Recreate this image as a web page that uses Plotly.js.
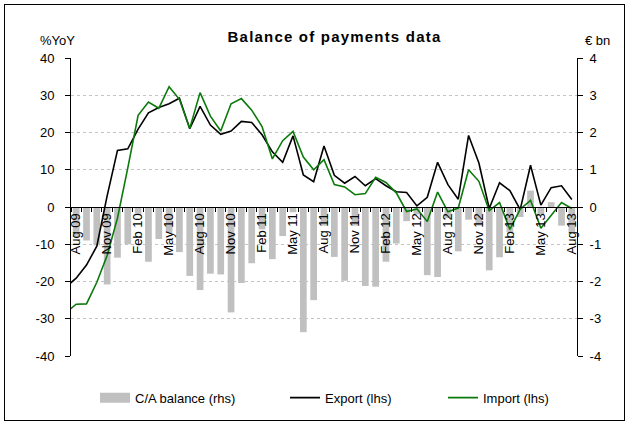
<!DOCTYPE html>
<html>
<head>
<meta charset="utf-8">
<script src="https://cdn.plot.ly/plotly-3.0.1.min.js"></script>
<style>
  html, body { margin: 0; padding: 0; background: #fff; }
  #wrap { position: relative; width: 629px; height: 425px; }
  #chart { position: absolute; left: 0; top: 0; width: 629px; height: 425px; }
  #frame { position: absolute; left: 4px; top: 4px; width: 621px; height: 417px; box-sizing: border-box; border: 1px solid #000; pointer-events: none; }
  .gtitle { letter-spacing: 1.2px; }
</style>
</head>
<body>
<div id="wrap"><div id="chart"></div><div id="frame"></div></div>
<script>
// Months shown (bars), Aug 09 .. Aug 13
const months = ['Aug 09','Sep 09','Oct 09','Nov 09','Dec 09','Jan 10','Feb 10','Mar 10','Apr 10','May 10','Jun 10','Jul 10',
  'Aug 10','Sep 10','Oct 10','Nov 10','Dec 10','Jan 11','Feb 11','Mar 11','Apr 11','May 11','Jun 11','Jul 11',
  'Aug 11','Sep 11','Oct 11','Nov 11','Dec 11','Jan 12','Feb 12','Mar 12','Apr 12','May 12','Jun 12','Jul 12',
  'Aug 12','Sep 12','Oct 12','Nov 12','Dec 12','Jan 13','Feb 13','Mar 13','Apr 13','May 13','Jun 13','Jul 13','Aug 13'];
// line series start one month earlier (clipped at the axis)
const lineMonths = ['Jul 09'].concat(months);

// C/A balance, EUR bn (rhs)
const caBalance = [-0.8,-0.9,-1.03,-2.08,-1.36,-1.0,-0.18,-1.47,-0.86,-0.7,-1.21,-1.85,
  -2.23,-1.79,-1.81,-2.83,-2.04,-1.51,-0.6,-1.4,-0.78,-0.14,-3.36,-2.5,
  -0.5,-1.34,-1.98,-0.5,-2.12,-2.14,-1.47,-0.98,-0.38,-0.2,-1.83,-1.88,
  -0.3,-1.19,-0.34,-0.5,-1.7,-1.35,-0.67,-0.27,0.44,-0.2,0.13,-0.5,-0.71];

// Export, %YoY (lhs)
const exportYoY = [-21.5,-19.1,-15.6,-10.5,3.0,15.2,15.6,20.9,25.3,26.7,27.7,29.2,21.0,
  27.0,22.0,19.5,20.4,23.0,22.7,19.4,14.8,12.0,19.1,8.6,6.8,
  16.4,8.5,6.4,8.2,5.7,7.6,5.7,4.1,3.9,0.3,2.6,12.0,
  6.0,2.1,19.2,11.8,-0.4,6.5,4.4,-0.7,11.2,0.5,5.2,5.7,2.0];

// Import, %YoY (lhs)
const importYoY = [-28.4,-26.1,-26.0,-20.2,-13.0,-3.0,10.5,24.6,28.2,26.5,32.3,28.9,21.1,
  30.7,24.4,20.4,27.7,29.1,26.0,21.6,12.9,17.8,20.3,13.4,10.0,
  12.7,6.0,5.4,3.3,3.6,8.0,6.6,3.8,-1.2,-0.5,-3.9,4.0,
  -1.3,-0.3,10.0,6.9,-1.0,1.2,-6.0,-0.6,1.8,-5.7,-2.2,1.2,-0.4];

const leftTickVals = [-40,-30,-20,-10,0,10,20,30,40];
const leftTickText = ['-40','-30','-20','-10','0','10','20','30','40'];
const rightTickVals = [-4,-3,-2,-1,0,1,2,3,4];
const rightTickText = ['-4','-3','-2','-1','0','1','2','3','4'];
const xTickText = lineMonths.map((m, i) => (i >= 1 && (i - 1) % 3 === 0) ? m : '');

const FONT = 'Liberation Sans, Arial, sans-serif';
const GREY = '#c0c0c0';
const GREEN = '#0b7a0b';

const L = 71, R = 577, T = 58, B = 358, W = 629, H = 425;
const px = v => (v - L) / (R - L);
const py = v => (B - v) / (B - T);

const traces = [
  { type: 'bar', x: months, y: caBalance, xaxis: 'x', yaxis: 'y',
    marker: { color: GREY, line: { width: 0 } }, width: 0.65,
    name: 'C/A balance (rhs)', showlegend: false, hoverinfo: 'x+y' },
  { type: 'scatter', mode: 'lines', x: [null], y: [null], xaxis: 'x', yaxis: 'y',
    line: { color: GREY, width: 10 }, name: 'C/A balance (rhs)', legend: 'legend', showlegend: true },
  { type: 'scatter', mode: 'lines', x: lineMonths, y: exportYoY, xaxis: 'x', yaxis: 'y2',
    line: { color: '#000000', width: 1.6 }, name: 'Export (lhs)', legend: 'legend2' },
  { type: 'scatter', mode: 'lines', x: lineMonths, y: importYoY, xaxis: 'x', yaxis: 'y2',
    line: { color: GREEN, width: 1.6 }, name: 'Import (lhs)', legend: 'legend3' }
];

const legendBase = { orientation: 'h', xanchor: 'left', yanchor: 'middle', y: py(400),
  bgcolor: 'rgba(0,0,0,0)', borderwidth: 0, font: { family: FONT, size: 13, color: '#000' } };

const layout = {
  width: W, height: H,
  margin: { l: L, r: W - R, t: T, b: H - B, pad: 0 },
  paper_bgcolor: 'rgba(0,0,0,0)', plot_bgcolor: 'rgba(0,0,0,0)',
  font: { family: FONT, size: 13, color: '#000' },
  title: { text: '<b>Balance of payments data</b>', font: { family: FONT, size: 15, color: '#000' },
    xref: 'container', yref: 'container', x: 334.5 / W, y: 1 - 37 / H, xanchor: 'center', yanchor: 'middle' },
  bargap: 0.35,
  xaxis: {
    type: 'category', categoryorder: 'array', categoryarray: lineMonths,
    range: [0.5, lineMonths.length - 0.5],
    anchor: 'free', position: 0.5,
    showline: true, linecolor: '#000', linewidth: 1,
    tickmode: 'array', tickvals: lineMonths, ticktext: xTickText,
    tickson: 'boundaries', ticks: 'outside', ticklen: 4, tickcolor: '#000', tickwidth: 1,
    tickangle: -90, tickfont: { family: FONT, size: 13, color: '#000' },
    showgrid: false, zeroline: false, fixedrange: true
  },
  yaxis: {
    side: 'right', anchor: 'x', range: [-4, 4],
    tickmode: 'array', tickvals: rightTickVals, ticktext: rightTickText,
    showline: true, linecolor: '#000', linewidth: 1,
    ticks: 'outside', ticklen: 5, tickcolor: '#000', ticklabelstandoff: 4,
    showgrid: true, gridcolor: '#c4c4c4', griddash: 'dot', gridwidth: 1,
    zeroline: false, tickfont: { family: FONT, size: 13, color: '#000' }, fixedrange: true
  },
  yaxis2: {
    side: 'left', overlaying: 'y', anchor: 'x', range: [-40, 40],
    tickmode: 'array', tickvals: leftTickVals, ticktext: leftTickText,
    showline: true, linecolor: '#000', linewidth: 1,
    ticks: 'outside', ticklen: 5, tickcolor: '#000', ticklabelstandoff: 8,
    showgrid: false, zeroline: false, tickfont: { family: FONT, size: 13, color: '#000' }, fixedrange: true
  },
  legend: Object.assign({}, legendBase, { x: px(95) }),
  legend2: Object.assign({}, legendBase, { x: px(285) }),
  legend3: Object.assign({}, legendBase, { x: px(443) }),
  annotations: [
    { text: '%YoY', xref: 'paper', yref: 'paper', x: px(38), y: py(40), xanchor: 'left', yanchor: 'middle',
      showarrow: false, font: { family: FONT, size: 13, color: '#000' } },
    { text: '€ bn', xref: 'paper', yref: 'paper', x: px(583), y: py(40), xanchor: 'left', yanchor: 'middle',
      showarrow: false, font: { family: FONT, size: 13, color: '#000' } }
  ]
};

Plotly.newPlot('chart', traces, layout, { displayModeBar: false, staticPlot: true });
</script>
</body>
</html>
